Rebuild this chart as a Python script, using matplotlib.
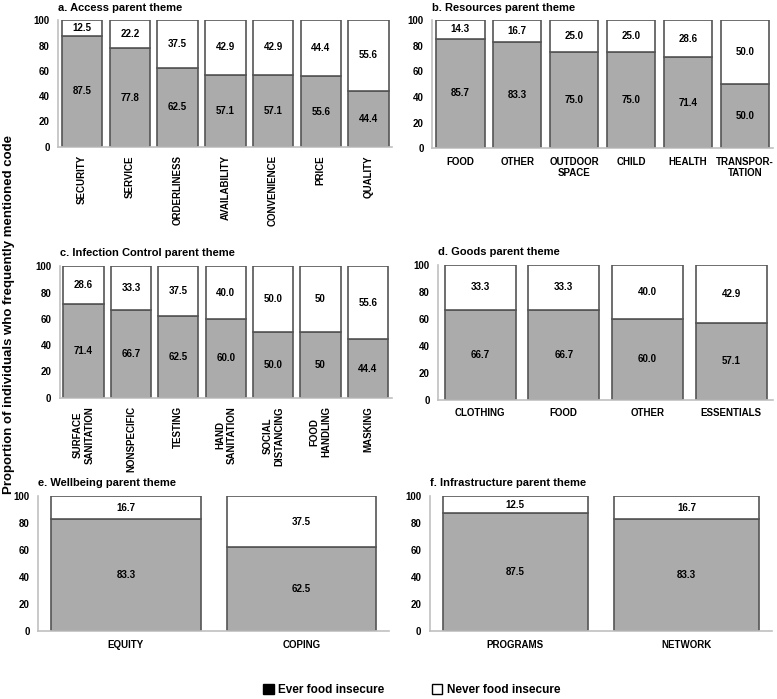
import matplotlib.pyplot as plt
import numpy as np
from matplotlib.patches import Patch
from matplotlib import font_manager

plt.rcParams['font.family'] = ['Liberation Sans Narrow', 'Liberation Sans', 'DejaVu Sans']
plt.rcParams['font.weight'] = 'bold'

# panel data: categories and % "ever food insecure"
access_cats = ['SECURITY', 'SERVICE', 'ORDERLINESS', 'AVAILABILITY', 'CONVENIENCE', 'PRICE', 'QUALITY']
access_ever = [87.5, 77.8, 62.5, 57.1, 57.1, 55.6, 44.4]
access_never = [12.5, 22.2, 37.5, 42.9, 42.9, 44.4, 55.6]

resources_cats = ['FOOD', 'OTHER', 'OUTDOOR\nSPACE', 'CHILD', 'HEALTH', 'TRANSPOR-\nTATION']
resources_ever = [85.7, 83.3, 75.0, 75.0, 71.4, 50.0]
resources_never = [14.3, 16.7, 25.0, 25.0, 28.6, 50.0]

infection_cats = ['SURFACE\nSANITATION', 'NONSPECIFIC', 'TESTING', 'HAND\nSANITATION',
                  'SOCIAL\nDISTANCING', 'FOOD\nHANDLING', 'MASKING']
infection_ever = [71.4, 66.7, 62.5, 60.0, 50.0, 50.0, 44.4]
infection_never = [28.6, 33.3, 37.5, 40.0, 50.0, 50.0, 55.6]
infection_ever_txt = ['71.4', '66.7', '62.5', '60.0', '50.0', '50', '44.4']
infection_never_txt = ['28.6', '33.3', '37.5', '40.0', '50.0', '50', '55.6']

goods_cats = ['CLOTHING', 'FOOD', 'OTHER', 'ESSENTIALS']
goods_ever = [66.7, 66.7, 60.0, 57.1]
goods_never = [33.3, 33.3, 40.0, 42.9]

wellbeing_cats = ['EQUITY', 'COPING']
wellbeing_ever = [83.3, 62.5]
wellbeing_never = [16.7, 37.5]

infra_cats = ['PROGRAMS', 'NETWORK']
infra_ever = [87.5, 83.3]
infra_never = [12.5, 16.7]

GRAY = '#ababab'
EDGE = '#555555'


def panel(fig, rect, title, cats, ever, never, rot=0, ever_txt=None, never_txt=None):
    ax = fig.add_axes(rect)
    x = np.arange(len(cats))
    ax.bar(x, ever, width=0.85, color=GRAY, edgecolor=EDGE, linewidth=1.2)
    ax.bar(x, never, bottom=ever, width=0.85, color='white', edgecolor=EDGE, linewidth=1.2)
    if ever_txt is None:
        ever_txt = ['%.1f' % v for v in ever]
    if never_txt is None:
        never_txt = ['%.1f' % v for v in never]
    for i in range(len(cats)):
        ax.text(x[i], ever[i] / 2, ever_txt[i], ha='center', va='center', fontsize=7, fontweight='bold')
        ax.text(x[i], ever[i] + never[i] / 2, never_txt[i], ha='center', va='center',
                fontsize=7, fontweight='bold')
    ax.set_xlim(-0.5, len(cats) - 0.5)
    ax.set_ylim(0, 100)
    ax.set_yticks([0, 20, 40, 60, 80, 100])
    ax.set_xticks(x)
    if rot:
        ax.set_xticklabels(cats, rotation=90, ha='center', va='top', multialignment='center')
    else:
        ax.set_xticklabels(cats, multialignment='center')
    ax.tick_params(length=0, labelsize=7, pad=6)
    for s in ['top', 'right']:
        ax.spines[s].set_visible(False)
    for s in ['left', 'bottom']:
        ax.spines[s].set_color('#c0c0c0')
        ax.spines[s].set_linewidth(1.2)
    ax.text(0.0, 1.06, title, transform=ax.transAxes, fontsize=8, fontweight='bold',
            ha='left', va='bottom')
    return ax


fig = plt.figure(figsize=(7.77, 6.99), dpi=100)

panel(fig, [0.075, 0.790, 0.430, 0.181], 'a. Access parent theme', access_cats, access_ever, access_never, rot=90)
panel(fig, [0.556, 0.788, 0.439, 0.183], 'b. Resources parent theme', resources_cats, resources_ever, resources_never)
panel(fig, [0.077, 0.431, 0.427, 0.188], 'c. Infection Control parent theme', infection_cats,
      infection_ever, infection_never, rot=90, ever_txt=infection_ever_txt, never_txt=infection_never_txt)
panel(fig, [0.564, 0.428, 0.431, 0.193], 'd. Goods parent theme', goods_cats, goods_ever, goods_never)
panel(fig, [0.049, 0.097, 0.452, 0.193], 'e. Wellbeing parent theme', wellbeing_cats, wellbeing_ever, wellbeing_never)
panel(fig, [0.553, 0.097, 0.441, 0.193], 'f. Infrastructure parent theme', infra_cats, infra_ever, infra_never)

fig.text(0.012, 0.55, 'Proportion of individuals who frequently mentioned code', rotation=90,
         ha='center', va='center', fontsize=9.5, fontweight='bold')

handles = [Patch(facecolor='black', edgecolor='black', label='Ever food insecure'),
           Patch(facecolor='white', edgecolor='black', label='Never food insecure')]
fig.legend(handles=handles, loc='center', bbox_to_anchor=(0.53, 0.013), ncol=2, frameon=False,
           fontsize=8.5, handlelength=0.9, handleheight=0.9, columnspacing=4, handletextpad=0.4)

fig.savefig('out.png', dpi=100)
